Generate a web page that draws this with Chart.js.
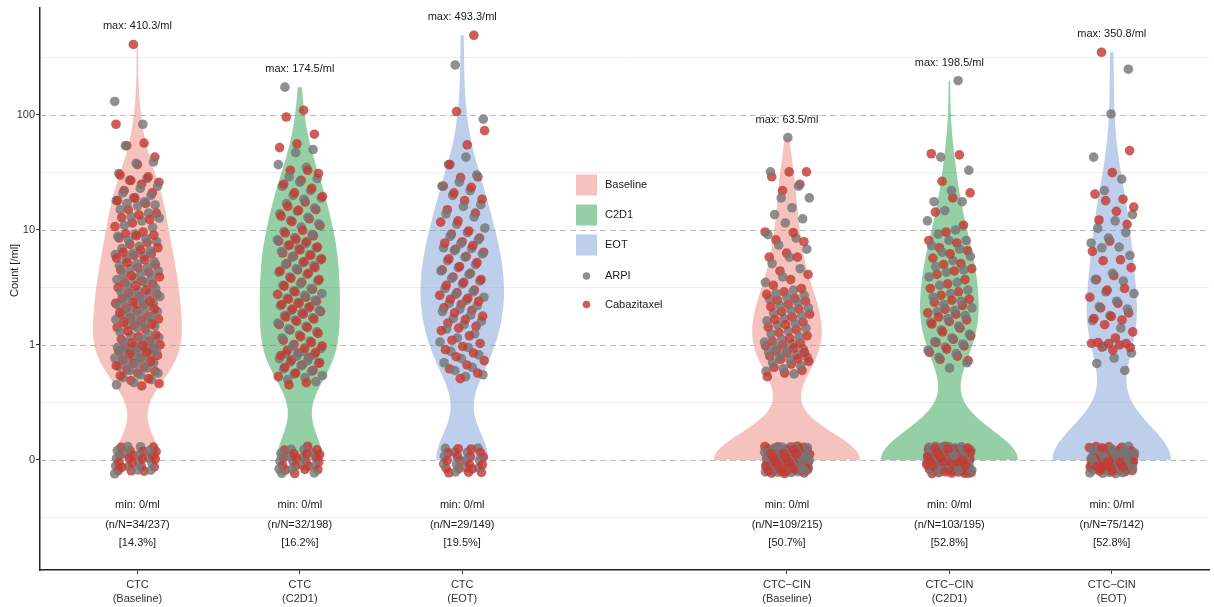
<!DOCTYPE html>
<html>
<head>
<meta charset="utf-8">
<script src="https://cdn.jsdelivr.net/npm/chart.js@4.4.1/dist/chart.umd.min.js"></script>
<style>
  html, body { margin: 0; padding: 0; background: #ffffff; }
  canvas { display: block; }
</style>
</head>
<body>
<canvas id="chart" width="1214" height="607"></canvas>
<script>
// ---- categories --------------------------------------------------------
const groupPositions = [1, 2, 3, 5, 6, 7];
const groupTickLabels = [
  ['CTC', '(Baseline)'], ['CTC', '(C2D1)'], ['CTC', '(EOT)'],
  ['CTC\u2212CIN', '(Baseline)'], ['CTC\u2212CIN', '(C2D1)'], ['CTC\u2212CIN', '(EOT)']
];
const groupPeriod = [0, 1, 2, 0, 1, 2];
const periodNames = ['Baseline', 'C2D1', 'EOT'];
const drugNames = ['ARPI', 'Cabazitaxel'];
const yTitle = 'Count [/ml]';

// ---- y axis ticks (count per ml) -----------------------------------------
const yTickValues = [0, 1, 10, 100];
const yTickLabels = ['0', '1', '10', '100'];

// ---- samples with a count of 0/ml, per group ---------------------------
const zeroCountArpi = [15, 14, 12, 52, 50, 37];
const zeroCountCaba = [19, 18, 17, 57, 53, 38];

// ---- samples with a positive count (/ml) ---------------------------------
const ctcBaselineArpi = [131, 83, 54, 39, 38, 31,
  28, 27, 24, 23, 21, 20, 19, 18, 17.6, 17, 16.5, 16.2, 15, 14, 13, 12.7, 12, 11, 10.5,
  9.2, 8.8, 8.4, 8.1, 7.9, 7.2, 6.9, 6.6, 6.3, 6.1, 5.9, 5.6, 5.3, 5.1, 4.9, 4.7, 4.6, 4.4, 4.2, 4.1,
  3.9, 3.8, 3.7, 3.5, 3.3,
  3.1, 2.96, 2.9, 2.81, 2.7, 2.63, 2.5, 2.46, 2.31, 2.27, 2.2, 2.12, 1.98, 1.95, 1.9,
  1.84, 1.74, 1.7, 1.66, 1.54, 1.5, 1.46, 1.41, 1.3, 1.24, 1.2, 1.16, 1.11, 1.06, 1.02,
  0.98, 0.95, 0.93, 0.9, 0.88, 0.86, 0.85, 0.82, 0.8, 0.77, 0.75, 0.72, 0.7, 0.68, 0.65, 0.63, 0.6, 0.57,
  0.55, 0.52, 0.5, 0.47, 0.45];
const ctcBaselineCaba = [410.3, 83, 57, 54, 43, 37,
  30, 29, 27, 26, 25, 22, 21, 19, 18, 17, 15, 14, 13.5, 12.8, 12.3, 11.5, 10.7,
  9.6, 9.3, 9.0, 8.9, 8.5, 7.8, 7.5, 7.0, 6.7, 6.4, 6.2, 6.0, 5.7, 5.5, 5.2, 5.0, 4.7, 4.5, 4.3, 4.0,
  3.9, 3.6, 3.5, 3.4, 3.25,
  3.15, 3.0, 2.85, 2.75, 2.65, 2.55, 2.4, 2.35, 2.3, 2.25, 2.1, 2.05, 1.98, 1.9, 1.78,
  1.72, 1.68, 1.62, 1.58, 1.52, 1.48, 1.42, 1.38, 1.32, 1.22, 1.18, 1.12, 1.08, 1.04, 1.0,
  0.99, 0.96, 0.93, 0.91, 0.89, 0.86, 0.83, 0.81, 0.77, 0.74, 0.72, 0.69, 0.66, 0.64, 0.61, 0.59, 0.57,
  0.54, 0.51, 0.49, 0.46, 0.44];
const ctcC2d1Arpi = [174.5, 50, 47, 37, 35, 29,
  28, 26, 24, 22, 20, 19, 18.5, 17, 15.5, 14.6, 13.8, 12.9, 12.1, 11.3, 10.6,
  9.7, 9.1, 8.6, 8.2, 7.6, 7.3, 7.0, 6.9, 6.5, 6.1, 5.8, 5.5, 5.2, 5.0, 4.9, 4.6, 4.3, 4.1, 3.9, 3.6, 3.4, 3.3,
  3.1, 2.95, 2.8, 2.7, 2.55, 2.45, 2.35, 2.2, 2.1, 2.0, 2.0, 1.9, 1.8, 1.72, 1.65, 1.55, 1.45, 1.38, 1.3,
  1.22, 1.15, 1.08,
  0.97, 0.93, 0.88, 0.84, 0.82, 0.8, 0.76, 0.73, 0.71, 0.69, 0.66, 0.62, 0.59, 0.56, 0.54, 0.52, 0.5, 0.48];
const ctcC2d1Caba = [110, 96, 68, 56, 52, 33, 33,
  31, 27, 25, 23, 21, 19.5, 17.5, 16, 15, 14.8, 13.2, 12.5, 11.8, 10.9,
  9.9, 9.4, 8.9, 8.3, 8.0, 7.9, 7.4, 7.1, 6.7, 6.3, 6.0, 5.9, 5.6, 5.3, 5.1, 4.7, 4.5, 4.4, 4.2, 3.8, 3.7,
  3.5, 3.25,
  3.05, 2.9, 2.75, 2.6, 2.5, 2.4, 2.3, 2.25, 2.15, 2.05, 1.95, 1.85, 1.75, 1.68, 1.6, 1.5, 1.42, 1.35, 1.26,
  1.18, 1.1, 1.05, 1.01,
  0.98, 0.94, 0.9, 0.86, 0.85, 0.81, 0.78, 0.74, 0.7, 0.67, 0.64, 0.6, 0.57, 0.53, 0.47, 0.45];
const ctcEotArpi = [272, 92, 43, 37,
  30, 26, 24, 22, 20, 16.6, 16, 13.8, 13, 11.2, 10.4,
  9.5, 8.8, 8.2, 7.6, 7.0, 6.9, 6.6, 6.2, 5.8, 5.4, 5.0, 4.7, 4.4, 4.1, 3.8, 3.6, 3.4,
  3.1, 2.9, 2.75, 2.6, 2.45, 2.3, 2.2, 2.05, 1.95, 1.82, 1.7, 1.6, 1.5, 1.38, 1.25, 1.15, 1.06,
  0.95, 0.88, 0.82, 0.76, 0.7, 0.64, 0.6, 0.55, 0.53];
const ctcEotCaba = [493.3, 107, 73, 55, 37,
  29, 28.5, 24, 23.5, 21, 18.5, 18, 15, 14, 12, 11.7,
  9.8, 9.2, 8.5, 7.9, 7.7, 7.3, 6.8, 6.4, 5.9, 5.6, 5.2, 4.8, 4.5, 4.2, 3.9, 3.7, 3.5, 3.3,
  3.0, 2.85, 2.7, 2.55, 2.5, 2.4, 2.25, 2.1, 2.0, 1.9, 1.78, 1.66, 1.55, 1.45, 1.4, 1.33, 1.2, 1.1, 1.03,
  0.97, 0.91, 0.85, 0.79, 0.73, 0.67, 0.62, 0.57, 0.51];
const cinBaselineArpi = [63.5, 32, 24, 19, 19, 15.6, 13.6, 12.5, 11.5,
  9.1, 8.5, 7.4, 6.8, 5.8, 5.1, 4.6, 3.9, 3.5,
  3.0, 2.8, 2.7, 2.6, 2.5, 2.35, 2.2, 2.1, 2.0, 1.9, 1.8, 1.7, 1.62, 1.55, 1.48, 1.4, 1.32, 1.25, 1.18,
  1.12, 1.06, 1.02,
  0.97, 0.92, 0.9, 0.87, 0.82, 0.8, 0.78, 0.74, 0.7, 0.66, 0.62, 0.59, 0.56];
const cinBaselineCaba = [32, 32, 29, 25, 22,
  9.6, 9.5, 8.2, 7.9, 6.3, 5.8, 5.8, 4.4, 4.1, 3.7, 3.3,
  3.1, 2.9, 2.75, 2.55, 2.45, 2.4, 2.25, 2.15, 2.05, 1.95, 1.85, 1.75, 1.66, 1.58, 1.5, 1.43, 1.36, 1.28,
  1.2, 1.14, 1.08, 1.04, 1.0,
  0.98, 0.94, 0.89, 0.86, 0.85, 0.8, 0.76, 0.75, 0.72, 0.68, 0.64, 0.6, 0.57, 0.53];
const cinC2d1Arpi = [198.5, 43, 33, 22, 17.6, 17.6, 14.7, 12, 10,
  9.2, 8.1, 8.1, 7.3, 6.8, 6.4, 5.9, 5.4, 4.8, 4.5, 4.3, 3.9, 3.5, 3.3,
  3.0, 2.8, 2.6, 2.4, 2.25, 2.1, 2.0, 1.95, 1.8, 1.7, 1.58, 1.46, 1.35, 1.24, 1.15, 1.07, 1.02,
  0.96, 0.9, 0.84, 0.78, 0.7, 0.63];
const cinC2d1Caba = [46, 45, 26.5, 21, 19, 14.3, 11,
  9.6, 8.1, 7.7, 7.0, 6.6, 6.2, 5.7, 5.1, 5.0, 4.6, 4.4, 4.1, 3.7, 3.4,
  3.1, 2.9, 2.7, 2.5, 2.45, 2.35, 2.2, 2.05, 1.9, 1.85, 1.75, 1.65, 1.6, 1.52, 1.4, 1.3, 1.2, 1.12, 1.05,
  0.98, 0.92, 0.86, 0.8, 0.75, 0.73];
const cinEotArpi = [250, 102, 43, 27.7, 22, 13.6, 12, 10.3, 9.5,
  8.5, 7.7, 7.1, 7.0, 6.0, 4.2, 3.7, 3.6, 2.9, 2.8,
  2.4, 2.15, 2.05, 1.8, 1.63, 1.4, 0.97, 0.85, 0.77, 0.69, 0.6];
const cinEotCaba = [350.8, 49, 31.5, 20.5, 18.5, 18, 15.8, 14.5, 12.2, 11.2,
  8.0, 6.5, 5.5, 5.4, 4.7, 4.0, 3.7, 3.1, 3.0, 2.6,
  2.3, 2.1, 1.9, 1.77, 1.7, 1.65, 1.5, 1.3, 1.15, 1.05,
  1.03, 1.03, 1.03, 1.0, 0.96, 0.95, 0.9];

const positiveArpi = [ctcBaselineArpi, ctcC2d1Arpi, ctcEotArpi, cinBaselineArpi, cinC2d1Arpi, cinEotArpi];
const positiveCaba = [ctcBaselineCaba, ctcC2d1Caba, ctcEotCaba, cinBaselineCaba, cinC2d1Caba, cinEotCaba];

// ---- styling -----------------------------------------------------------
const FONT = '"Liberation Sans", Arial, Helvetica, sans-serif';
const periodFill = ['rgba(236,134,124,0.5)', 'rgba(44,160,76,0.5)', 'rgba(124,160,214,0.5)'];
const drugColor = ['rgba(118,118,118,0.82)', 'rgba(196,58,52,0.82)'];
const JITTER_W = 0.14;   // horizontal jitter, in category units
const JITTER_H = 0.12;   // vertical jitter of the zero counts, in log10 units
const VIOLIN_HALF = 0.45;
const POINT_LAYERS = 4;  // gray and red points are stacked in alternating layers

// 0/ml sits one decade below 1/ml on the log axis
const toL = v => (v > 0 ? Math.log10(v) : -1);
const frac = t => t - Math.floor(t);

// ---- kernel density (Gaussian, Silverman bandwidth) ------------------------
function nrd0(xs) {
  const n = xs.length;
  const s = xs.slice().sort((a, b) => a - b);
  const mean = xs.reduce((a, b) => a + b, 0) / n;
  const sd = Math.sqrt(xs.reduce((a, b) => a + (b - mean) * (b - mean), 0) / (n - 1));
  const q = p => { const h = (n - 1) * p, lo = Math.floor(h); return s[lo] + (h - lo) * (s[Math.min(lo + 1, n - 1)] - s[lo]); };
  let lo = Math.min(sd, (q(0.75) - q(0.25)) / 1.34);
  if (!(lo > 0)) lo = sd || 1;
  return 0.9 * lo * Math.pow(n, -0.2);
}
function density(xs, lo, hi, steps) {
  const bw = nrd0(xs), n = xs.length, k = 1 / (n * bw * Math.sqrt(2 * Math.PI));
  const out = [];
  for (let i = 0; i < steps; i++) {
    const y = lo + (hi - lo) * i / (steps - 1);
    let d = 0;
    for (const x of xs) { const z = (y - x) / bw; d += Math.exp(-0.5 * z * z); }
    out.push({ y, d: d * k });
  }
  return out;
}

// ---- build groups --------------------------------------------------------
const groups = groupPositions.map((pos, i) => {
  const arpi = positiveArpi[i], caba = positiveCaba[i];
  const zA = zeroCountArpi[i], zC = zeroCountCaba[i];
  const all = [...arpi, ...caba, ...new Array(zA + zC).fill(0)];
  const Ls = all.map(toL);
  const max = Math.max(...all), min = Math.min(...all);
  return { pos, arpi, caba, zA, zC, n: zA + zC, N: all.length, max, min,
           dens: density(Ls, Math.min(...Ls), Math.max(...Ls), 400) };
});
const densMax = Math.max(...groups.map(g => Math.max(...g.dens.map(p => p.d))));

const datasets = [];
groups.forEach((g, i) => {
  const right = g.dens.map(p => ({ x: g.pos + VIOLIN_HALF * p.d / densMax, y: p.y }));
  const left = g.dens.slice().reverse().map(p => ({ x: g.pos - VIOLIN_HALF * p.d / densMax, y: p.y }));
  datasets.push({
    type: 'line', data: [...right, ...left], fill: 'shape',
    backgroundColor: periodFill[groupPeriod[i]], borderColor: 'rgba(0,0,0,0)', borderWidth: 0,
    borderDash: [4, 0], pointRadius: 0, tension: 0, order: 50
  });
});

function pointsFor(d) {
  const pts = [];
  groups.forEach((g, i) => {
    const vals = d === 0 ? g.arpi : g.caba;
    vals.forEach((v, k) => {
      pts.push({ x: g.pos + (frac(0.173 * i + 0.41 * d + k * 0.6180339887) - 0.5) * 2 * JITTER_W, y: toL(v) });
    });
    const zStart = d === 0 ? 0 : g.zA, zCount = d === 0 ? g.zA : g.zC;
    for (let k = zStart; k < zStart + zCount; k++) {
      pts.push({
        x: g.pos + (frac(0.29 * i + k * 0.7548776662) - 0.5) * 2 * JITTER_W,
        y: -1 + (frac(0.61 * i + k * 0.5698402910) - 0.5) * 2 * JITTER_H
      });
    }
  });
  return pts;
}
// layers alternate which drug is drawn on top
const drugPoints = drugNames.map((_, d) => pointsFor(d));
const layerOf = (k, d) => Math.floor(frac(0.5 * d + k * 0.4142135624) * POINT_LAYERS);
for (let layer = 0; layer < POINT_LAYERS; layer++) {
  drugNames.forEach((name, d) => {
    const onTop = (layer % 2 === 0) ? (d === 0) : (d === 1);
    datasets.push({
      type: 'scatter', label: name,
      data: drugPoints[d].filter((_, k) => layerOf(k, d) === layer),
      pointRadius: 4.8, pointBackgroundColor: drugColor[d], pointBorderWidth: 0,
      pointBorderColor: 'rgba(0,0,0,0)',
      order: 2 * (POINT_LAYERS - layer) + (onTop ? 0 : 1)
    });
  });
}

// ---- plugins -------------------------------------------------------------
const majorL = yTickValues.map(toL);
const allYTicks = [majorL[0] - 0.5];
majorL.forEach(v => allYTicks.push(v, v + 0.5));

const dashedGrid = {
  id: 'dashedGrid',
  beforeDatasetsDraw(chart) {
    const { ctx, chartArea: a, scales: { y } } = chart;
    ctx.save();
    ctx.strokeStyle = '#b9b9b9';
    ctx.lineWidth = 1.1;
    ctx.setLineDash([6, 4]);
    majorL.forEach(v => {
      const py = Math.round(y.getPixelForValue(v)) + 0.5;
      ctx.beginPath(); ctx.moveTo(a.left, py); ctx.lineTo(a.right, py); ctx.stroke();
    });
    ctx.restore();
  }
};

const fmt = v => (Number.isInteger(v) ? String(v) : v.toFixed(1));
const annotations = {
  id: 'annotations',
  afterDatasetsDraw(chart) {
    const { ctx, scales: { x, y } } = chart;
    ctx.save();
    ctx.font = '11px ' + FONT;
    ctx.fillStyle = '#1a1a1a';
    ctx.textAlign = 'center';
    ctx.textBaseline = 'middle';
    groups.forEach(g => {
      const px = x.getPixelForValue(g.pos);
      ctx.fillText('max: ' + fmt(g.max) + '/ml', px, y.getPixelForValue(toL(g.max) + 0.157));
      ctx.fillText('min: ' + fmt(g.min) + '/ml', px, y.getPixelForValue(-1.39));
      ctx.fillText('(n/N=' + g.n + '/' + g.N + ')', px, y.getPixelForValue(-1.565));
      ctx.fillText('[' + (100 * g.n / g.N).toFixed(1) + '%]', px, y.getPixelForValue(-1.722));
    });
    ctx.restore();
  }
};

const legendBox = {
  id: 'legendBox',
  afterDraw(chart) {
    const { ctx, scales: { y } } = chart;
    ctx.save();
    ctx.font = '11px ' + FONT;
    ctx.textBaseline = 'middle';
    const x0 = 576, tx = 605;
    periodNames.forEach((name, i) => {
      const cy = 185 + i * 30;
      ctx.fillStyle = periodFill[i];
      ctx.fillRect(x0, cy - 10.5, 21, 21);
      ctx.fillStyle = '#1a1a1a';
      ctx.fillText(name, tx, cy);
    });
    drugNames.forEach((name, d) => {
      const cy = 276 + d * 28.5;
      ctx.fillStyle = drugColor[d];
      ctx.beginPath(); ctx.arc(x0 + 10.5, cy, 3.8, 0, Math.PI * 2); ctx.fill();
      ctx.fillStyle = '#1a1a1a';
      ctx.fillText(name, tx, cy);
    });
    // y axis title, set between the 1 and 10 gridlines
    ctx.translate(15, (y.getPixelForValue(majorL[1]) + y.getPixelForValue(majorL[2])) / 2 - 17);
    ctx.rotate(-Math.PI / 2);
    ctx.textAlign = 'center';
    ctx.fillStyle = '#1a1a1a';
    ctx.fillText(yTitle, 0, 0);
    ctx.restore();
  }
};

// ---- chart ---------------------------------------------------------------
Chart.defaults.font.family = FONT;
new Chart(document.getElementById('chart'), {
  type: 'scatter',
  data: { datasets },
  plugins: [dashedGrid, annotations, legendBox],
  options: {
    responsive: false,
    animation: false,
    devicePixelRatio: 1,
    events: [],
    layout: { padding: { top: 8, right: 0, bottom: 0, left: 0 } },
    plugins: { legend: { display: false }, tooltip: { enabled: false } },
    scales: {
      x: {
        type: 'linear', min: 0.4, max: 7.6,
        afterBuildTicks: s => { s.ticks = groupPositions.map(v => ({ value: v })); },
        afterFit: s => { s.height = 37; },
        grid: { drawOnChartArea: false, drawTicks: true, tickLength: 4, tickColor: '#333333', tickWidth: 1 },
        border: { display: true, color: '#222222', width: 1.5 },
        ticks: {
          autoSkip: false, maxRotation: 0, padding: 4,
          color: '#333333', font: { size: 11, lineHeight: 1.27 },
          callback: v => groupTickLabels[groupPositions.indexOf(v)]
        }
      },
      y: {
        type: 'linear', min: -1.957, max: 2.93,
        afterBuildTicks: s => { s.ticks = allYTicks.map(v => ({ value: v })); },
        afterFit: s => { s.width = 40; },
        grid: {
          drawTicks: true, tickLength: 4, lineWidth: 1,
          color: c => (majorL.includes(c.tick.value) ? 'rgba(0,0,0,0)' : '#eeeeee'),
          tickColor: c => (majorL.includes(c.tick.value) ? '#333333' : 'rgba(0,0,0,0)')
        },
        border: { display: true, color: '#222222', width: 1.5 },
        ticks: {
          autoSkip: false, padding: 1, color: '#333333', font: { size: 11 },
          callback: v => { const k = majorL.indexOf(v); return k >= 0 ? yTickLabels[k] : ''; }
        },
        title: { display: false }
      }
    }
  }
});
</script>
</body>
</html>
